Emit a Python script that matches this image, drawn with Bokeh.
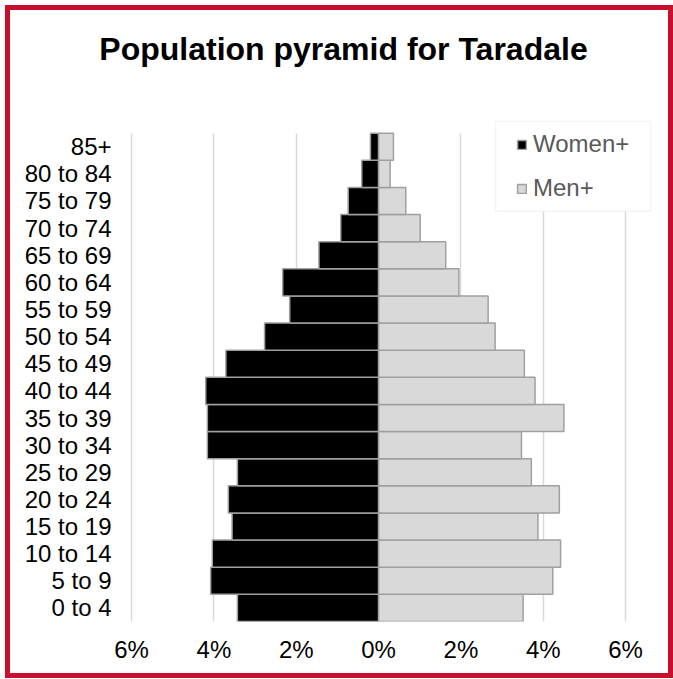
from bokeh.plotting import figure
from bokeh.models import (Range1d, FixedTicker, Legend, LegendItem, BoxAnnotation,
                          ColumnDataSource, Label)
from bokeh.embed import file_html
from bokeh.resources import INLINE

# ---- data (bottom to top) ----
age_groups = ["0 to 4", "5 to 9", "10 to 14", "15 to 19", "20 to 24", "25 to 29",
              "30 to 34", "35 to 39", "40 to 44", "45 to 49", "50 to 54", "55 to 59",
              "60 to 64", "65 to 69", "70 to 74", "75 to 79", "80 to 84", "85+"]
women = [3.43, 4.08, 4.04, 3.56, 3.65, 3.43, 4.16, 4.16, 4.20, 3.71, 2.77, 2.16,
         2.33, 1.45, 0.92, 0.74, 0.41, 0.20]
men = [3.51, 4.23, 4.42, 3.87, 4.39, 3.71, 3.47, 4.50, 3.80, 3.54, 2.83, 2.66,
       1.95, 1.63, 1.01, 0.66, 0.28, 0.36]
x_ticks = [-6, -4, -2, 0, 2, 4, 6]
x_tick_labels = ["6%", "4%", "2%", "0%", "2%", "4%", "6%"]
series_names = ["Women+", "Men+"]
title_text = "Population pyramid for Taradale"

FONT = "Liberation Sans"

ypos = list(range(len(age_groups)))
src = ColumnDataSource(data=dict(
    y=ypos,
    women_left=[-v for v in women],
    men_right=men,
))

p = figure(width=668, height=673,
           x_range=Range1d(-6.877, 6.75), y_range=Range1d(-0.5, 21.653),
           output_backend="svg", toolbar_location=None,
           min_border_left=85, min_border_right=22,
           min_border_top=10, min_border_bottom=62)
p.styles = {"border": "5px solid #C8102E", "margin-left": "5px", "margin-top": "5px"}
p.outline_line_color = None
p.background_fill_color = "white"
p.border_fill_color = "white"

rw = p.hbar(y="y", left="women_left", right=0, height=1.0, source=src,
            fill_color="black", line_color="#a0a0a0", line_width=1.5)
rm = p.hbar(y="y", left=0, right="men_right", height=1.0, source=src,
            fill_color="#d9d9d9", line_color="#a0a0a0", line_width=1.5)

# axes
p.xaxis.ticker = FixedTicker(ticks=x_ticks)
p.xaxis.major_label_overrides = {t: l for t, l in zip(x_ticks, x_tick_labels)}
p.yaxis.ticker = FixedTicker(ticks=ypos)
p.yaxis.major_label_overrides = {i: g for i, g in zip(ypos, age_groups)}
for ax in (p.xaxis, p.yaxis):
    ax.axis_line_color = None
    ax.major_tick_line_color = None
    ax.minor_tick_line_color = None
    ax.major_label_text_font = FONT
    ax.major_label_text_font_size = "24px"
    ax.major_label_text_color = "black"
p.xaxis.major_label_standoff = 8
p.yaxis.major_label_standoff = -22

p.ygrid.visible = False
p.xgrid.grid_line_color = "#d9d9d9"
p.xgrid.grid_line_width = 1.5
try:
    p.xgrid.cross_bounds = (-0.5, 17.5)
except Exception:
    pass

# title (screen units: offset from the plot frame's bottom-left corner)
title = Label(x=248, y=573, x_units="screen", y_units="screen",
              text=title_text, text_align="center", text_baseline="alphabetic",
              text_font=FONT, text_font_size="32px", text_font_style="bold",
              text_color="black")
p.add_layout(title)

box = BoxAnnotation(left=2.84, right=6.61, bottom=14.62, top=17.93,
                    fill_color="white", fill_alpha=1.0,
                    line_color="#d9d9d9", line_width=1.5)
p.add_layout(box)

legend = Legend(items=[LegendItem(label=series_names[0], renderers=[rw]),
                       LegendItem(label=series_names[1], renderers=[rm])],
                location=(421, 419), padding=0, spacing=16,
                glyph_width=11, glyph_height=11, label_standoff=6,
                label_height=28,
                label_text_font=FONT, label_text_font_size="24px",
                label_text_color="#595959",
                border_line_alpha=0, background_fill_alpha=0)
p.add_layout(legend)

open("out.html", "w").write(file_html(p, INLINE))
